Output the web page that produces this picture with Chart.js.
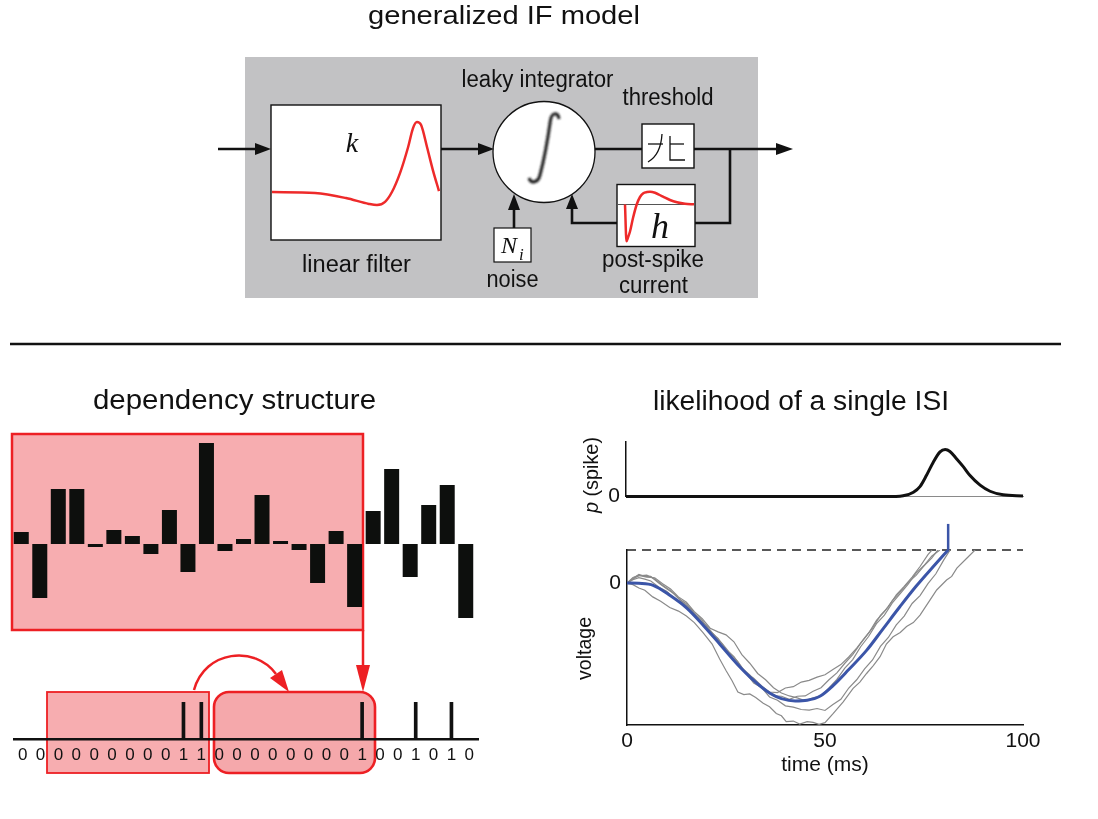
<!DOCTYPE html>
<html><head><meta charset="utf-8">
<script src="https://cdn.jsdelivr.net/npm/chart.js@4.4.1/dist/chart.umd.min.js"></script>
<style>
html,body{margin:0;padding:0;background:#fff;}
#page{position:relative;width:1098px;height:819px;overflow:hidden;}
svg.layer{position:absolute;left:0;top:0;}
#bg{z-index:0;} #fg{z-index:2;pointer-events:none;}
canvas{position:absolute;z-index:1;}
</style></head>
<body><div id="page">
<svg id="bg" class="layer" width="1098" height="819">
 <defs><filter id="blur" x="-50%" y="-50%" width="200%" height="200%"><feGaussianBlur stdDeviation="0.8"/></filter></defs>
 <rect x="245" y="57" width="513" height="241" fill="#c2c2c4"/>
 <rect x="271" y="105" width="170" height="135" fill="#fff" stroke="#111" stroke-width="1.4"/>
 <rect x="617" y="184.5" width="78" height="62" fill="#fff" stroke="#111" stroke-width="1.4"/>
 <rect x="642" y="124" width="52" height="44" fill="#fff" stroke="#111" stroke-width="1.4"/>
 <rect x="494" y="228" width="37" height="34" fill="#fff" stroke="#111" stroke-width="1.2"/>
 <ellipse cx="544" cy="152" rx="51" ry="50.5" fill="#fff" stroke="#111" stroke-width="1.3"/>
 <path d="M 559 119 C 558 112 552 112 550.5 120 C 548 138 544 160 540 175 C 538 183 531 184 529 178" stroke="#1a1a1a" stroke-width="3" fill="none" filter="url(#blur)"/>
 <g stroke="#111" stroke-width="2.6" fill="none">
  <line x1="218" y1="149" x2="258" y2="149"/>
  <line x1="441" y1="149" x2="481" y2="149"/>
  <line x1="595" y1="149" x2="642" y2="149"/>
  <line x1="694" y1="149" x2="779" y2="149"/>
  <polyline points="730,149 730,223 695,223"/>
  <polyline points="617,223 572,223 572,206"/>
  <line x1="514" y1="228" x2="514" y2="208"/>
 </g>
 <g fill="#111">
  <polygon points="271,149 255,143 255,155"/>
  <polygon points="494,149 478,143 478,155"/>
  <polygon points="793,149 776,143 776,155"/>
  <polygon points="514,194 508,210 520,210"/>
  <polygon points="572,194 566,209 578,209"/>
 </g>
 <g stroke="#111" stroke-width="1.3" fill="none">
  <line x1="648" y1="144" x2="663" y2="144"/>
  <line x1="670" y1="144" x2="684" y2="144"/>
  <polyline points="670,136 670,160 685,160"/>
  <path d="M 648 162 C 655 158 661 151 662 134"/>
 </g>
 <line x1="10" y1="344" x2="1061" y2="344" stroke="#111" stroke-width="2.5"/>
 <rect x="12" y="434" width="351" height="196" fill="#f7adb0" stroke="#ed2024" stroke-width="2.5"/>
 <line x1="363" y1="630" x2="363" y2="668" stroke="#ed2024" stroke-width="2.5"/>
 <polygon points="363,692 356,665 370,665" fill="#ed2024"/>
 <rect x="47" y="692" width="162" height="81" fill="#f7adb0" stroke="#ed2024" stroke-width="1.8"/>
 <rect x="214" y="692" width="161" height="81" rx="15" fill="#f5a8ab" stroke="#ed2024" stroke-width="2.6"/>
 <path d="M 194 690 C 205 650 255 645 276 674" stroke="#ed2024" stroke-width="2.5" fill="none"/>
 <polygon points="289,692 270,678 282,670" fill="#ed2024"/>
</svg>

<canvas id="kChart" width="169" height="133" style="left:272px;top:106px"></canvas>
<canvas id="hChart" width="76" height="61" style="left:618px;top:185px"></canvas>
<canvas id="depChart" width="463" height="196" style="left:12px;top:434px"></canvas>
<canvas id="spikeChart" width="468" height="78" style="left:12px;top:690px"></canvas>
<canvas id="pChart" width="490" height="92" style="left:560px;top:423px"></canvas>
<canvas id="vChart" width="490" height="265" style="left:560px;top:515px"></canvas>

<svg id="fg" class="layer" width="1098" height="819">
 <g font-family="'Liberation Sans', Arial, Helvetica, sans-serif" fill="#111">
  <text x="368" y="23.5" font-size="26" textLength="272" lengthAdjust="spacingAndGlyphs">generalized IF model</text>
  <text x="93" y="408.5" font-size="27" textLength="283" lengthAdjust="spacingAndGlyphs">dependency structure</text>
  <text x="653" y="409.5" font-size="27" textLength="296" lengthAdjust="spacingAndGlyphs">likelihood of a single ISI</text>
  <text x="537.5" y="87" font-size="23" text-anchor="middle" textLength="152" lengthAdjust="spacingAndGlyphs">leaky integrator</text>
  <text x="668" y="105" font-size="23" text-anchor="middle" textLength="91" lengthAdjust="spacingAndGlyphs">threshold</text>
  <text x="356.5" y="272" font-size="23" text-anchor="middle" textLength="109" lengthAdjust="spacingAndGlyphs">linear filter</text>
  <text x="512.5" y="287" font-size="23" text-anchor="middle" textLength="52" lengthAdjust="spacingAndGlyphs">noise</text>
  <text x="653" y="267" font-size="23" text-anchor="middle" textLength="102" lengthAdjust="spacingAndGlyphs">post-spike</text>
  <text x="653.5" y="292.5" font-size="23" text-anchor="middle" textLength="69" lengthAdjust="spacingAndGlyphs">current</text>
  <text transform="translate(598,513) rotate(-90)" font-size="20" textLength="76" lengthAdjust="spacingAndGlyphs"><tspan font-style="italic">p</tspan> (spike)</text>
  <text transform="translate(591,680) rotate(-90)" font-size="20" textLength="63" lengthAdjust="spacingAndGlyphs">voltage</text>
 </g>
 <g font-family="'Liberation Serif', 'Times New Roman', serif" font-style="italic" fill="#111">
  <text x="352" y="152" font-size="28" text-anchor="middle">k</text>
  <text x="660" y="238" font-size="36" text-anchor="middle">h</text>
  <text x="501" y="253" font-size="24">N</text>
  <text x="519" y="259.5" font-size="17">i</text>
 </g>
</svg>
</div>
<script>
// ---- linear filter k ----
const kTime  = [0, 25.6, 44, 57.7, 62.5, 67.3, 71.4, 76.2, 81, 83.9, 86.3, 88.7, 92.3, 95.8, 99.4];
const kValue = [0, -0.014, -0.086, -0.17, -0.186, -0.14, 0, 0.27, 0.64, 0.91, 1.0, 0.96, 0.64, 0.31, 0.014];
// ---- post-spike current h ----
const hTime  = [0, 1.5, 3, 5, 8, 11.7, 15, 18.3, 22, 25, 30, 38, 45, 52, 60, 69];
const hValue = [0, -2.45, -2.2, -1.8, -0.9, 0, 0.5, 0.75, 0.83, 0.85, 0.78, 0.52, 0.3, 0.15, 0.05, 0.01];
// ---- dependency structure (stimulus weights) ----
const depLags    = ['1','2','3','4','5','6','7','8','9','10','11','12','13','14','15','16','17','18','19','20','21','22','23','24','25'];
const depWeights = [1.2, -5.4, 5.5, 5.5, -0.3, 1.4, 0.8, -1.0, 3.4, -2.8, 10.1, -0.7, 0.5, 4.9, 0.3, -0.6, -3.9, 1.3, -6.3, 3.3, 7.5, -3.3, 3.9, 5.9, -7.4];
// ---- spike train ----
const spikeBins  = ['0','0','0','0','0','0','0','0','0','1','1','0','0','0','0','0','0','0','0','1','0','0','1','0','1','0'];
const spikeTrain = [0,0,0,0,0,0,0,0,0,1,1,0,0,0,0,0,0,0,0,1,0,0,1,0,1,0];
// ---- p(spike) ----
const pTime  = [0, 60, 68, 69.8, 72.4, 74.1, 75.7, 77.4, 79.1, 80.4, 81.6, 83.3, 85, 86.6, 89.2, 91.7, 95, 100];
const pSpike = [0, 0, 0, 0.012, 0.09, 0.215, 0.45, 0.73, 0.95, 1.0, 0.96, 0.80, 0.63, 0.45, 0.24, 0.11, 0.035, 0.01];
// ---- voltage ----
const vTicks = [0, 50, 100];
const threshold = 1;
const spikeTime = 81.1, spikeTop = 1.79;
const vTime = [0, 3, 6.6, 10.9, 15.1, 19.4, 23.5, 27.8, 31.9, 36.1, 39, 42.5, 45.5, 48.7, 52.1, 56, 60.5, 64.7, 68.9, 73, 77.3, 81.1];
const vMean = [0, -0.01, -0.07, -0.38, -0.76, -1.30, -1.86, -2.45, -2.94, -3.34, -3.50, -3.57, -3.55, -3.43, -3.10, -2.62, -2.04, -1.38, -0.72, -0.10, 0.49, 1.0];
const trace1Time = [0,1.5,3,4.5,6.5,8.5,10.8,13,15,17,19.2,21.5,23.4,25,26.5,28,29.5,31,32.5,34.4,36,37.7,39,40.2,42,43.6,45.5,47,48.5,50,52.1,54.6,57.1,58.8,60.5,62.2,63.9,65.5,67.2,69,70.6,72.3,74,76.5,78.2,80.7,82,83.3,85.8,87.9];
const trace1Volt = [0,-0.05,-0.15,-0.22,-0.42,-0.55,-0.74,-0.85,-1.0,-1.2,-1.5,-1.85,-2.3,-2.65,-2.95,-3.3,-3.38,-3.36,-3.47,-3.64,-3.75,-3.95,-4.02,-4.2,-4.18,-4.27,-4.2,-4.22,-4.28,-4.23,-3.95,-3.6,-3.19,-3.0,-2.74,-2.5,-2.23,-1.85,-1.63,-1.5,-1.32,-1.2,-0.97,-0.52,-0.21,0.09,0.2,0.45,0.75,1.0];
const trace2Time = [0,1.5,3,4.5,6,8,10,12,14,16,18,20,22,24,26,28,30,32,34,36,38,40,42,44,46,48,50,52,54,56,58,60,62,64,66,68,70,72,74,76,78,80,81.6];
const trace2Volt = [0,0.1,0.16,0.12,0.06,-0.12,-0.25,-0.47,-0.6,-0.87,-1.05,-1.36,-1.57,-1.93,-2.17,-2.5,-2.72,-3.03,-3.17,-3.45,-3.55,-3.72,-3.76,-3.83,-3.85,-3.8,-3.86,-3.68,-3.52,-3.18,-2.93,-2.6,-2.33,-1.92,-1.65,-1.27,-1.0,-0.62,-0.38,-0.02,0.28,0.7,1.0];
const trace3Time = [0,1.5,3,4.5,6,8,10,12,14,16,18,20,22,24,26,28,30,32,34,36,38,40,42,44,46,48,50,52,54,56,58,60,62,64,66,68,70,72,74,76,77];
const trace3Volt = [0,0.14,0.26,0.2,0.2,0.0,-0.17,-0.33,-0.58,-0.78,-1.07,-1.28,-1.58,-1.83,-2.12,-2.38,-2.72,-2.88,-3.12,-3.3,-3.32,-3.18,-3.14,-3.0,-2.95,-2.85,-2.78,-2.62,-2.47,-2.24,-1.97,-1.66,-1.37,-0.98,-0.72,-0.36,-0.1,0.18,0.5,0.86,1.0];
const trace4Time = [0,1.5,3,5,7,9,11,13,15,17,19,21,23,25,27,29,31,33,35,37,39,41,43,45,47,49,51,53,55,57,59,61,63,65,67,69,71,73,75,77,78.5];
const trace4Volt = [0,0.12,0.22,0.24,0.12,-0.07,-0.23,-0.47,-0.63,-0.92,-1.13,-1.47,-1.68,-2.02,-2.23,-2.57,-2.78,-3.07,-3.23,-3.42,-3.43,-3.52,-3.43,-3.42,-3.28,-3.17,-2.93,-2.72,-2.43,-2.17,-1.83,-1.52,-1.13,-0.87,-0.53,-0.27,0.02,0.23,0.52,0.76,1.0];
const trace5Time = [0,1.5,3,5,7,9,11,13,15,17,19,21,23,25,27,29,31,33,35,37,39,41,43,45,47,49,51,53,55,57,59,61,63,65,67,69,71,73,75,77,79];
const trace5Volt = [0,0.17,0.23,0.18,0.16,-0.02,-0.18,-0.42,-0.58,-0.87,-1.08,-1.37,-1.48,-1.57,-1.78,-2.17,-2.43,-2.74,-2.93,-3.17,-3.33,-3.42,-3.48,-3.57,-3.48,-3.42,-3.18,-2.92,-2.58,-2.32,-1.93,-1.62,-1.23,-0.97,-0.6,-0.32,-0.03,0.3,0.53,0.82,1.0];

Chart.defaults.font.family = "'Liberation Sans', Arial, Helvetica, sans-serif";
Chart.defaults.color = '#111';
Chart.defaults.animation = false;
Chart.defaults.responsive = false;
Chart.defaults.events = [];
Chart.defaults.plugins.legend.display = false;
Chart.defaults.plugins.tooltip.enabled = false;
Chart.defaults.elements.point.radius = 0;

function xy(ts, vs) { return ts.map((t, i) => ({x: t, y: vs[i]})); }

function bareLine(id, datasets, xr, yr) {
  return new Chart(document.getElementById(id), {
    type: 'line',
    data: {datasets: datasets},
    options: {
      devicePixelRatio: 1,
      layout: {padding: 0},
      scales: {
        x: {type: 'linear', display: false, min: xr[0], max: xr[1]},
        y: {type: 'linear', display: false, min: yr[0], max: yr[1]}
      }
    }
  });
}

bareLine('kChart', [
  {data: xy(kTime, kValue), borderColor: '#ee2a2a', borderWidth: 2.5, cubicInterpolationMode: 'monotone'}
], [0, 100.6], [-0.671, 1.229]);

bareLine('hChart', [
  {data: xy(hTime, hValue), borderColor: '#ee2a2a', borderWidth: 2.5, cubicInterpolationMode: 'monotone'},
  {data: [{x: -7, y: 0}, {x: 69, y: 0}], borderColor: '#555', borderWidth: 1.2}
], [-7, 69], [-2.767, 1.3]);

new Chart(document.getElementById('depChart'), {
  type: 'bar',
  data: {labels: depLags, datasets: [{data: depWeights, backgroundColor: '#0d0f0d', barPercentage: 0.9, categoryPercentage: 0.9}]},
  options: {devicePixelRatio: 1, layout: {padding: 0},
    scales: {x: {display: false}, y: {display: false, min: -8.6, max: 11}}}
});

new Chart(document.getElementById('spikeChart'), {
  type: 'bar',
  data: {labels: spikeBins, datasets: [{data: spikeTrain, backgroundColor: '#111', barThickness: 3}]},
  options: {devicePixelRatio: 1, layout: {padding: {top: 12, left: 0, right: 0, bottom: 0}},
    scales: {
      x: {grid: {display: false, drawTicks: false}, border: {display: true, color: '#111', width: 2.5},
          ticks: {font: {size: 17}, color: '#111', padding: 6, autoSkip: false, maxRotation: 0},
          afterFit: s => { s.height = 29; }},
      y: {display: false, min: 0, max: 1}
    }}
});

new Chart(document.getElementById('pChart'), {
  type: 'line',
  data: {datasets: [{data: xy(pTime, pSpike), borderColor: '#111', borderWidth: 3, cubicInterpolationMode: 'monotone', clip: false}]},
  options: {devicePixelRatio: 1, layout: {padding: {top: 10, right: 27, bottom: 6, left: 0}},
    scales: {
      x: {type: 'linear', min: 0, max: 100, grid: {display: false, drawTicks: false},
          border: {display: true, color: '#8a8a8a', width: 1}, ticks: {display: false},
          afterFit: s => { s.height = 0; }},
      y: {type: 'linear', min: 0, max: 1.17, grid: {display: false, drawTicks: false},
          border: {display: true, color: '#111', width: 1.5},
          ticks: {font: {size: 21}, color: '#111', padding: 6},
          afterBuildTicks: s => { s.ticks = [{value: 0}]; },
          afterFit: s => { s.width = 66; }}
    }}
});

const grayTrace = (ts, vs) => ({data: xy(ts, vs), borderColor: '#8a8a8a', borderWidth: 1.2, tension: 0});
new Chart(document.getElementById('vChart'), {
  type: 'line',
  data: {datasets: [
    {data: xy(vTime, vMean), borderColor: '#3b55a8', borderWidth: 3, cubicInterpolationMode: 'monotone'},
    {data: [{x: spikeTime, y: threshold}, {x: spikeTime, y: spikeTop}], borderColor: '#3b55a8', borderWidth: 2.5, clip: false},
    grayTrace(trace1Time, trace1Volt),
    grayTrace(trace2Time, trace2Volt),
    grayTrace(trace3Time, trace3Volt),
    grayTrace(trace4Time, trace4Volt),
    grayTrace(trace5Time, trace5Volt),
    {data: [{x: 0, y: threshold}, {x: 100, y: threshold}], borderColor: '#222', borderWidth: 1.5, borderDash: [9, 6], clip: false}
  ]},
  options: {devicePixelRatio: 1, layout: {padding: {top: 35, right: 27, bottom: 0, left: 0}},
    scales: {
      x: {type: 'linear', min: 0, max: 100, grid: {display: false, drawTicks: false},
          border: {display: true, color: '#111', width: 1.5},
          ticks: {font: {size: 21}, color: '#111', padding: 4, maxRotation: 0},
          afterBuildTicks: s => { s.ticks = vTicks.map(v => ({value: v})); },
          title: {display: true, text: 'time (ms)', font: {size: 21}, color: '#111', padding: {top: 0, bottom: 2}},
          afterFit: s => { s.height = 55; }},
      y: {type: 'linear', min: -4.3, max: 1, grid: {display: false, drawTicks: false},
          border: {display: true, color: '#111', width: 1.5},
          ticks: {font: {size: 21}, color: '#111', padding: 6},
          afterBuildTicks: s => { s.ticks = [{value: 0}]; },
          afterFit: s => { s.width = 67; }}
    }}
});
</script>
</body></html>
